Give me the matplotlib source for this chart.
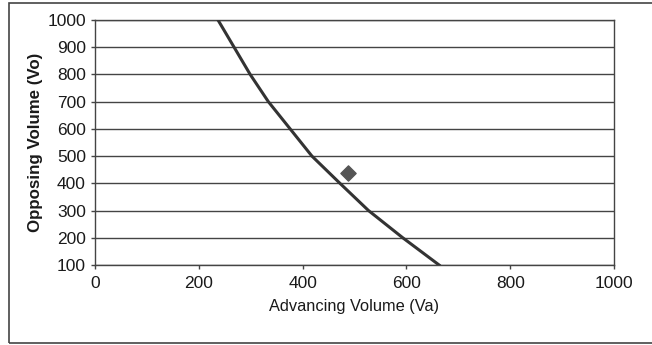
import matplotlib.pyplot as plt
from matplotlib.patches import Rectangle

# curve values (Vo at each gridline)
curve_va = [237, 268, 299, 334, 376, 418, 472, 527, 593, 663]
curve_vo = [1000, 900, 800, 700, 600, 500, 400, 300, 200, 100]

# single observed point
point_va = [487]
point_vo = [438]

x_ticks = [0, 200, 400, 600, 800, 1000]
y_ticks = [100, 200, 300, 400, 500, 600, 700, 800, 900, 1000]

plt.rcParams['font.family'] = ['Liberation Sans', 'DejaVu Sans']

fig = plt.figure(figsize=(6.52, 3.45), dpi=100)
ax = fig.add_axes([95 / 652, 1 - 265 / 345, 519 / 652, 245 / 345])

# outer chart border
fig.patches.append(Rectangle((9 / 652, 2 / 345), 1.2, 340 / 345,
                             transform=fig.transFigure, fill=False,
                             edgecolor='#444444', linewidth=1.2))

for y in y_ticks:
    ax.axhline(y, color='#444444', linewidth=1.0, zorder=1)

ax.plot(curve_va, curve_vo, color='#333333', linewidth=2.2, zorder=3)
ax.scatter(point_va, point_vo, marker='D', s=60, color='#555555', zorder=4)

ax.set_xlim(0, 1000)
ax.set_ylim(100, 1000)
ax.set_xticks(x_ticks)
ax.set_yticks(y_ticks)
ax.tick_params(axis='both', direction='out', length=3, width=1,
               color='#444444', labelsize=12.5, labelcolor='#1a1a1a')
ax.tick_params(axis='x', pad=5)

for side in ['left', 'bottom', 'right', 'top']:
    ax.spines[side].set_color('#444444')
    ax.spines[side].set_linewidth(1.0)

ax.set_xlabel('Advancing Volume (Va)', fontsize=11.8, color='#1a1a1a', labelpad=6)
ax.set_ylabel('Opposing Volume (Vo)', fontsize=12.2, color='#1a1a1a',
              fontweight='bold', labelpad=3)

fig.savefig('out.png', dpi=100)
